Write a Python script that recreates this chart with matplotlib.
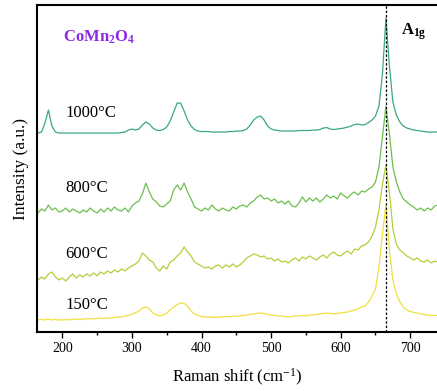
import numpy as np
import matplotlib
matplotlib.use("Agg")
import matplotlib.pyplot as plt
from matplotlib.ticker import MultipleLocator

plt.rcParams['font.family'] = ['Liberation Serif', 'DejaVu Serif']
plt.rcParams['mathtext.fontset'] = 'custom'
plt.rcParams['mathtext.rm'] = 'Liberation Serif'
plt.rcParams['mathtext.it'] = 'Liberation Serif:italic'
plt.rcParams['mathtext.bf'] = 'Liberation Serif:bold'

# Raman shift grid, 165-740 cm-1 in 5 cm-1 steps
shift = np.arange(165, 741, 5)

# intensities (a.u., already offset for stacking)
i1000 = [199, 200, 209, 222, 206, 200, 199, 199, 199, 199, 199, 199, 199, 199, 199, 199,
         199, 199, 199, 199, 199, 199, 199, 199, 199.5, 200, 202, 203, 202, 203, 207, 210,
         208, 204, 202, 201.5, 202.5, 205, 211, 220, 229, 229, 221, 212, 206, 202.5, 201, 200.5,
         200.5, 200.5, 200, 200, 200, 200, 200, 200.5, 200.5, 201, 201, 201.5, 203, 207,
         212, 215, 216, 212, 206, 203, 202, 201.5, 201, 201, 201, 201, 201, 201.5, 201.5, 201.5,
         201.5, 202, 202, 202.5, 204, 204.5, 203, 202.5, 203, 203.5, 204, 205, 206, 207.5, 208, 207,
         207.5, 209.5, 212, 216, 226, 258, 314, 266, 230, 217, 210, 206, 204, 203, 202, 201.5,
         201, 200.5, 200, 200, 200, 200]
i800 = [119, 123, 121, 127, 122, 124, 120, 121, 124, 120, 123, 121, 119, 122, 120, 124,
        121, 119, 123, 120, 124, 121, 125, 122, 121, 124, 120, 126, 129, 131, 138, 149,
        140, 133, 130, 126, 125, 128, 131, 142, 147, 142, 149, 140, 133, 125, 123, 121,
        124, 122, 127, 123, 121, 124, 122, 121, 125, 123, 126, 127, 125, 129, 131, 135,
        137, 133, 134, 131, 133, 129, 131, 128, 131, 126, 125, 129, 135, 130, 134, 131,
        134, 130, 133, 137, 134, 136, 133, 139, 136, 134, 138, 140, 137, 141, 140, 143,
        145, 150, 165, 195, 226, 198, 165, 150, 140, 133, 130, 127, 125, 122, 124, 121,
        124, 122, 126, 127]
i600 = [52, 55, 53, 58, 60, 55, 52, 54, 51, 55, 58, 54, 57, 55, 58, 56,
        59, 56, 60, 58, 61, 59, 62, 60, 63, 61, 64, 66, 68, 71, 79, 76,
        72, 70, 64, 61, 66, 63, 70, 72, 76, 79, 85, 80, 76, 70, 68, 66,
        64, 65, 63, 66, 67, 64, 67, 65, 68, 65, 67, 70, 74, 76, 78, 77,
        75, 76, 73, 74, 71, 73, 70, 71, 69, 72, 74, 71, 75, 73, 76, 74,
        72, 75, 77, 74, 78, 80, 77, 76, 79, 81, 78, 83, 82, 86, 87, 90,
        96, 105, 122, 148, 167, 140, 103, 88, 82, 79, 76, 74, 72, 74, 71, 70,
        72, 69, 71, 70]
i150 = [12, 12.5, 12, 13, 12, 12.5, 12, 12, 12.5, 12, 12.5, 13, 12.5, 13, 13, 13.5,
        13, 13.5, 14, 13.5, 14, 14, 14.5, 15, 15, 16, 16.5, 18, 19, 21, 24, 25,
        23, 19, 17, 16, 17, 19, 22, 25, 27.5, 29, 28.5, 26, 21, 18, 16.5, 15.5,
        15, 15, 15, 14.5, 15, 15, 15.5, 15, 16, 15.5, 16, 16.5, 17, 17.5, 18, 18.5,
        19, 18.5, 17.5, 17, 16.5, 16, 16, 15.5, 15, 15.5, 16, 16, 16.5, 16, 17, 17,
        17.5, 18, 18.5, 19, 18.5, 18, 18.5, 19, 19.5, 20, 21, 22, 23, 25, 26, 30,
        36, 43, 65, 98, 127, 82, 52, 38, 30, 25, 22, 20.5, 19.5, 19, 18, 17.5,
        17, 16.5, 16.5, 16.5]

spectra = [i1000, i800, i600, i150]
labels = ['1000°C', '800°C', '600°C', '150°C']
colors = ['#3aa87e', '#6cbf4e', '#b4cf38', '#f0df3c']
label_y = [219, 144, 78, 27]
a1g = 665

fig = plt.figure(figsize=(4.37, 3.91), dpi=100)
ax = fig.add_axes([0.0847, 0.151, 0.9153, 0.836])

for y, c in zip(spectra, colors):
    ax.plot(shift, y, color=c, lw=0.9)
for lab, ly in zip(labels, label_y):
    ax.text(204, ly, lab, fontsize=12, va='center', ha='left')

ax.axvline(a1g, color='black', lw=0.9, ls=(0, (2, 1.5)))
ax.text(201, 295, r'$\mathbf{CoMn_2O_4}$', fontsize=12, color='#8a2be2',
        va='center', ha='left')
ax.text(687, 300, r'$\mathbf{A_{1g}}$', fontsize=12, va='center', ha='left')

ax.set_xlim(163.6, 738.4)
ax.set_ylim(0, 327)
ax.set_yticks([])
ax.xaxis.set_major_locator(MultipleLocator(100))
ax.xaxis.set_minor_locator(MultipleLocator(50))
ax.tick_params(axis='x', which='major', direction='out', length=4, width=1, labelsize=10)
ax.tick_params(axis='x', which='minor', direction='out', length=2.2, width=1)
for s in ['left', 'top', 'bottom']:
    ax.spines[s].set_linewidth(1.5)
ax.spines['right'].set_visible(False)

ax.set_xlabel('Raman shift (cm$^{-1}$)', fontsize=12, labelpad=8)
ax.set_ylabel('Intensity (a.u.)', fontsize=12.5, labelpad=6)

fig.savefig('out.png', dpi=100)
